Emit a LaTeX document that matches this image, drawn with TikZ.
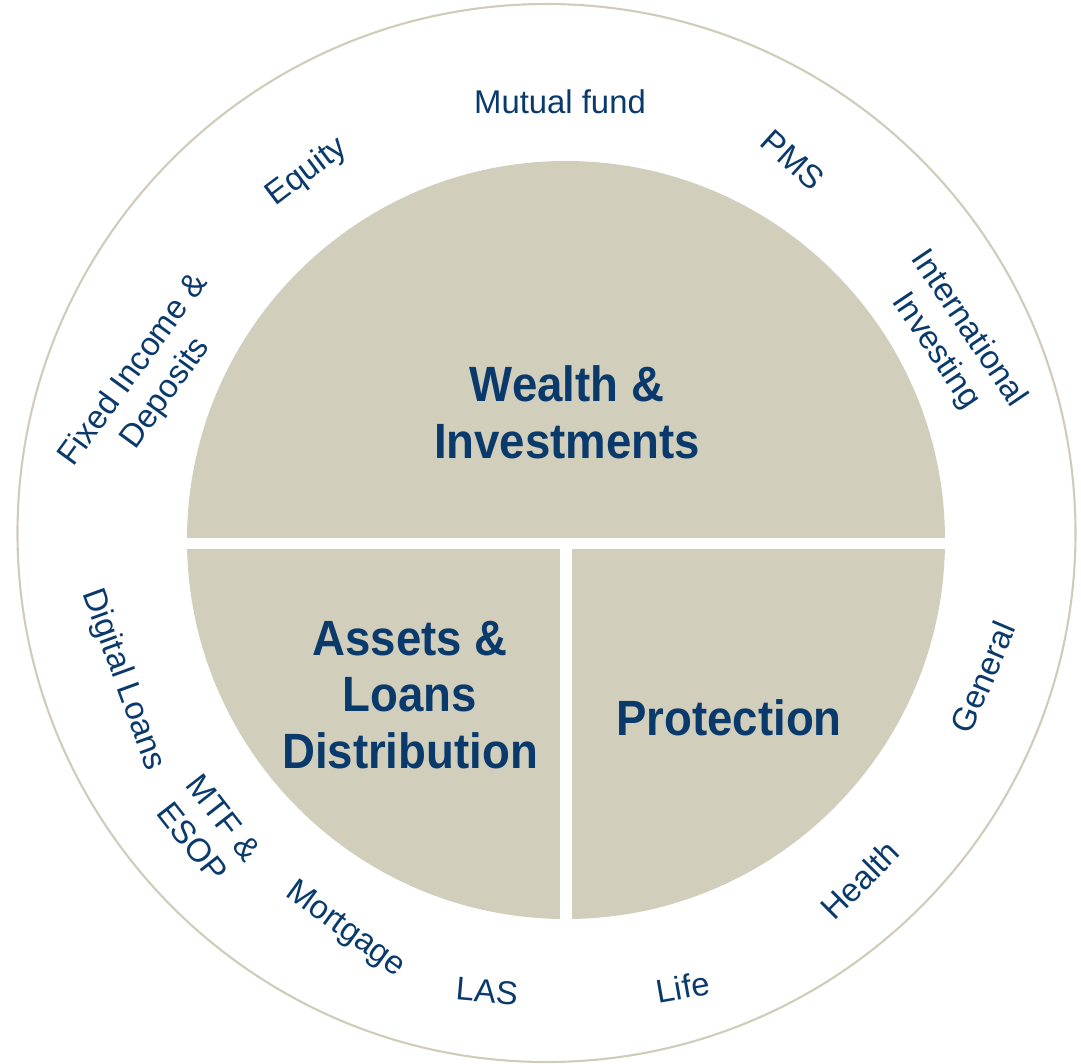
\documentclass[tikz,border=0pt]{standalone}
\usepackage{fontspec}
\setmainfont{Liberation Sans}
\newfontfamily\titlefont[FakeStretch=0.92]{Liberation Sans}
\definecolor{ink}{RGB}{10,58,108}
\definecolor{disc}{RGB}{209,206,187}
\definecolor{ring}{RGB}{207,204,186}
\tikzset{
  label/.style={text=ink, align=center, inner sep=0pt, font=\fontsize{18.7pt}{22.5pt}\selectfont},
  title/.style={text=ink, align=center, inner sep=0pt, font=\titlefont\bfseries\fontsize{28.2pt}{32.3pt}\selectfont},
}
\begin{document}
\begin{tikzpicture}[x=0.02cm,y=-0.02cm]
\useasboundingbox (0,0) rectangle (1081,1063);
% outer ring
\draw[ring, line width=1.2pt] (546.5,533) circle[radius=529];
% inner disc
\fill[disc] (566,540) circle[radius=379];
\fill[white] (180,538) rectangle (955,549);
\fill[white] (560,549) rectangle (572,930);
% titles
\node[title] (wealth) at (567,412) {Wealth \&\\Investments};
\node[title] (assets) at (410,695) {Assets \&\\Loans\\Distribution};
\node[title] (protection) at (729,718) {Protection};
% ring labels
\node[label] (mf) at (560,102) {Mutual fund};
\node[label, rotate=37] (equity) at (307,172) {Equity};
\node[label, rotate=-42] (pms) at (793,160) {PMS};
\node[label, rotate=-56] (intl) at (952,340) {International\\Investing};
\node[label, rotate=54] (fixed) at (150,382) {Fixed Income \&\\Deposits};
\node[label, rotate=-70] (digital) at (123,680) {Digital Loans};
\node[label, rotate=-52] (mtf) at (208,830) {MTF \&\\ESOP};
\node[label, rotate=-36] (mortgage) at (345,930) {Mortgage};
\node[label, rotate=-5] (las) at (487,991) {LAS};
\node[label, rotate=10] (life) at (683,987) {Life};
\node[label, rotate=45] (health) at (860,880) {Health};
\node[label, rotate=67] (general) at (983,677) {General};
\end{tikzpicture}
\end{document}
